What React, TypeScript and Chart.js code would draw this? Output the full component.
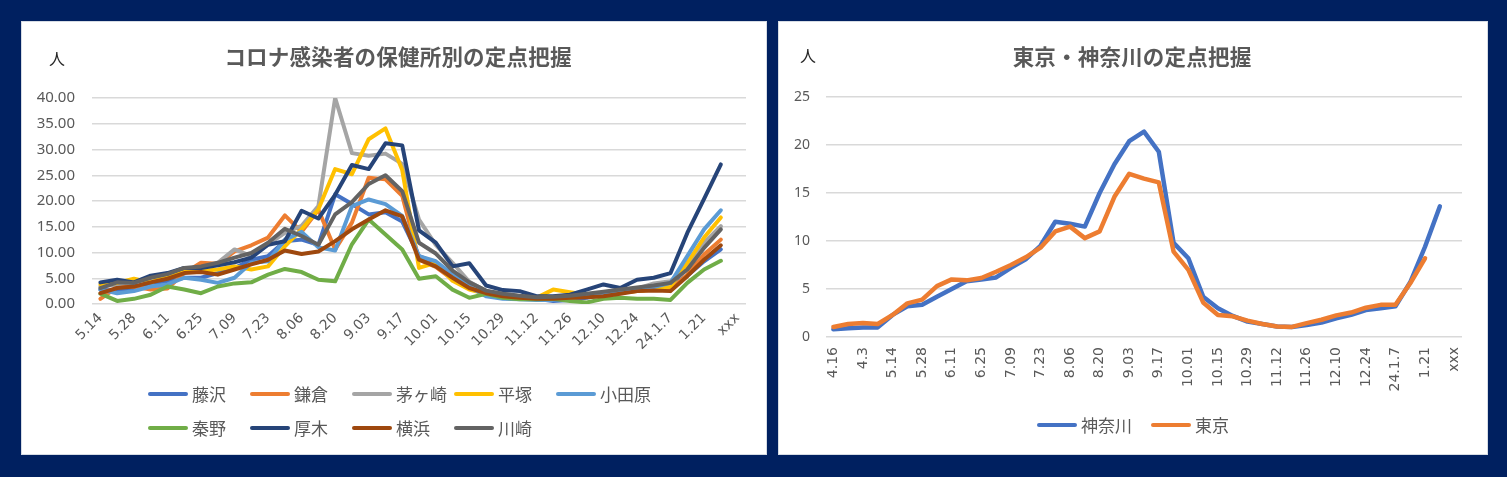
import React, { useEffect, useRef } from "react";
import { Chart, registerables } from "chart.js";

Chart.register(...registerables);

const NAVY = "#002060";
const TEXT = "#595959";
const GRID = "#D9D9D9";
const JP = '"Noto Sans CJK JP", "Noto Sans", sans-serif';

// ---------------- left chart data ----------------
const leftCategories = [
  "5.14", "5.21", "5.28", "6.04", "6.11", "6.18", "6.25", "7.02", "7.09", "7.16",
  "7.23", "7.30", "8.06", "8.13", "8.20", "8.27", "9.03", "9.10", "9.17", "9.24",
  "10.01", "10.08", "10.15", "10.22", "10.29", "11.05", "11.12", "11.19", "11.26", "12.03",
  "12.10", "12.17", "12.24", "12.31", "24.1.7", "1.14", "1.21", "1.28", "xxx",
];

const fujisawa = [2.8, 2.5, 2.8, 4.1, 4.4, 5.1, 5.1, 6.0, 7.0, 8.6, 9.3, 12.2, 12.5, 11.5, 21.3, 19.4, 17.4, 17.8, 16.0, 9.3, 8.0, 5.2, 3.0, 2.0, 1.5, 1.2, 1.0, 0.6, 0.8, 1.2, 1.8, 2.2, 2.6, 3.0, 3.5, 5.5, 8.3, 10.6];
const kamakura = [1.0, 3.3, 3.4, 2.8, 3.0, 6.0, 8.0, 7.8, 10.2, 11.4, 12.9, 17.2, 14.0, 18.3, 10.6, 15.8, 24.5, 24.2, 21.0, 8.6, 7.2, 4.8, 3.0, 2.2, 1.6, 1.2, 1.0, 1.0, 1.2, 1.5, 1.8, 2.2, 2.5, 2.8, 2.8, 5.7, 9.6, 12.5];
const chigasaki = [3.4, 3.8, 4.4, 5.1, 5.7, 6.7, 7.0, 8.0, 10.6, 9.3, 11.6, 13.8, 15.2, 19.0, 40.0, 29.3, 28.8, 29.2, 27.2, 16.4, 11.5, 8.0, 4.3, 2.5, 2.0, 1.5, 1.2, 1.2, 1.4, 1.9, 2.1, 2.6, 3.0, 4.0, 4.4, 7.3, 11.9, 15.1];
const hiratsuka = [3.8, 4.1, 4.9, 4.2, 5.4, 6.4, 6.4, 6.7, 7.3, 6.7, 7.3, 11.2, 14.5, 18.4, 26.2, 25.2, 32.0, 34.1, 26.0, 7.0, 8.0, 4.5, 2.8, 2.0, 1.5, 1.2, 1.2, 2.8, 2.3, 1.8, 2.0, 2.3, 2.5, 2.8, 3.4, 8.0, 12.9, 16.8];
const odawara = [2.8, 2.1, 2.5, 3.4, 3.8, 5.1, 4.7, 4.1, 5.1, 8.0, 8.3, 12.5, 14.0, 11.0, 10.4, 19.0, 20.3, 19.4, 17.1, 9.3, 8.3, 5.7, 3.4, 1.5, 1.0, 0.9, 0.8, 0.8, 1.2, 1.6, 2.0, 2.5, 3.0, 3.3, 4.1, 9.3, 14.5, 18.2];
const hadano = [2.0, 0.6, 1.0, 1.8, 3.4, 2.8, 2.1, 3.4, 4.0, 4.2, 5.7, 6.8, 6.2, 4.7, 4.4, 11.6, 16.4, 13.5, 10.6, 4.9, 5.4, 2.8, 1.2, 2.0, 1.2, 0.9, 0.9, 1.0, 0.6, 0.3, 1.0, 1.2, 1.0, 1.0, 0.8, 4.1, 6.7, 8.4];
const atsugi = [4.2, 4.7, 4.2, 5.5, 6.0, 7.0, 7.0, 7.5, 8.1, 9.0, 11.5, 12.2, 18.1, 16.6, 21.2, 27.0, 26.2, 31.2, 30.8, 14.3, 11.9, 7.3, 7.9, 3.6, 2.7, 2.5, 1.5, 1.5, 1.8, 2.8, 3.8, 3.1, 4.7, 5.1, 6.0, 13.8, 20.4, 27.1];
const yokohama = [2.1, 3.1, 3.4, 4.2, 4.9, 6.0, 6.2, 5.7, 6.7, 7.7, 8.6, 10.4, 9.7, 10.2, 12.2, 14.5, 16.4, 18.2, 17.0, 8.6, 7.3, 5.1, 3.1, 2.1, 1.5, 1.2, 1.0, 1.0, 1.2, 1.3, 1.5, 2.0, 2.5, 2.6, 2.5, 5.4, 8.6, 11.4];
const kawasaki = [3.1, 4.2, 4.1, 5.1, 5.8, 7.0, 7.3, 8.0, 9.0, 9.9, 11.9, 14.6, 13.2, 11.5, 17.4, 19.8, 23.3, 25.0, 21.9, 11.9, 9.8, 6.5, 4.2, 2.6, 2.0, 1.6, 1.3, 1.4, 1.6, 2.0, 2.4, 2.8, 3.2, 3.6, 4.1, 6.7, 10.9, 14.5];

const leftNames = ["藤沢", "鎌倉", "茅ヶ崎", "平塚", "小田原", "秦野", "厚木", "横浜", "川崎"];
const leftColors = ["#4472C4", "#ED7D31", "#A5A5A5", "#FFC000", "#5B9BD5", "#70AD47", "#264478", "#9E480E", "#636363"];
const leftValues = [fujisawa, kamakura, chigasaki, hiratsuka, odawara, hadano, atsugi, yokohama, kawasaki];
const leftTitle = "コロナ感染者の保健所別の定点把握";
const leftYMax = 40;
const leftYStep = 5;

// ---------------- right chart data ----------------
const rightCategories = ["4.16", "4.23", "4.3", "5.07", ...leftCategories];

const kanagawa = [0.8, 0.9, 1.0, 1.0, 2.3, 3.2, 3.35, 4.2, 5.0, 5.8, 6.0, 6.2, 7.2, 8.1, 9.5, 12.0, 11.8, 11.5, 15.0, 18.0, 20.4, 21.4, 19.3, 9.8, 8.2, 4.2, 3.0, 2.2, 1.6, 1.35, 1.1, 1.05, 1.25, 1.5, 1.95, 2.3, 2.8, 3.0, 3.2, 5.7, 9.4, 13.6];
const tokyo = [1.05, 1.35, 1.45, 1.35, 2.3, 3.5, 3.9, 5.3, 6.0, 5.9, 6.15, 6.8, 7.5, 8.3, 9.3, 11.0, 11.5, 10.3, 11.0, 14.6, 17.0, 16.5, 16.1, 8.9, 7.0, 3.6, 2.3, 2.15, 1.7, 1.35, 1.1, 1.05, 1.45, 1.8, 2.25, 2.55, 3.05, 3.35, 3.35, 5.6, 8.2];

const rightNames = ["神奈川", "東京"];
const rightColors = ["#4472C4", "#ED7D31"];
const rightValues = [kanagawa, tokyo];
const rightTitle = "東京・神奈川の定点把握";
const rightYMax = 25;
const rightYStep = 5;

const unitLabel = "人";

// ---------------- chart builders ----------------
function everyOther(this: any, value: any, index: number) {
  return index % 2 === 0 ? this.getLabelForValue(value) : "";
}

function buildLeftConfig(): any {
  return {
    type: "line",
    data: {
      labels: leftCategories,
      datasets: leftValues.map((vals, i) => ({
        label: leftNames[i],
        data: vals,
        borderColor: leftColors[i],
        backgroundColor: leftColors[i],
        borderWidth: 4,
        pointRadius: 0,
        tension: 0,
        borderJoinStyle: "round",
        borderCapStyle: "round",
        order: leftValues.length - i,
      })),
    },
    options: {
      responsive: false,
      animation: false,
      layout: { padding: { left: 11, right: 21, top: 77, bottom: 0 } },
      plugins: { legend: { display: false }, title: { display: false }, tooltip: { enabled: false } },
      scales: {
        x: {
          offset: true,
          grid: { display: false, drawTicks: false },
          border: { display: false },
          ticks: {
            autoSkip: false,
            minRotation: 45,
            maxRotation: 45,
            padding: 6,
            color: TEXT,
            font: { family: '"DejaVu Sans", sans-serif', size: 14 },
            callback: everyOther,
          },
          afterFit: (axis: any) => { axis.height = 151; },
        },
        y: {
          min: 0,
          max: leftYMax,
          ticks: {
            stepSize: leftYStep,
            padding: 17,
            color: TEXT,
            font: { family: '"Noto Sans", sans-serif', size: 15 },
            callback: (v: any) => Number(v).toFixed(2),
          },
          grid: { color: GRID, lineWidth: 1.5, drawTicks: false },
          border: { display: false },
          afterFit: (axis: any) => { axis.width = 60; },
        },
      },
    },
  };
}

function buildRightConfig(): any {
  return {
    type: "line",
    data: {
      labels: rightCategories,
      datasets: rightValues.map((vals, i) => ({
        label: rightNames[i],
        data: vals,
        borderColor: rightColors[i],
        backgroundColor: rightColors[i],
        borderWidth: 4.5,
        pointRadius: 0,
        tension: 0,
        borderJoinStyle: "round",
        borderCapStyle: "round",
        order: rightValues.length - i,
      })),
    },
    options: {
      responsive: false,
      animation: false,
      layout: { padding: { left: 8, right: 26, top: 76, bottom: 0 } },
      plugins: { legend: { display: false }, title: { display: false }, tooltip: { enabled: false } },
      scales: {
        x: {
          offset: true,
          grid: { display: false, drawTicks: false },
          border: { display: false },
          ticks: {
            autoSkip: false,
            minRotation: 90,
            maxRotation: 90,
            padding: 10,
            color: TEXT,
            font: { family: '"DejaVu Sans", sans-serif', size: 14 },
            callback: everyOther,
          },
          afterFit: (axis: any) => { axis.height = 118; },
        },
        y: {
          min: 0,
          max: rightYMax,
          ticks: {
            stepSize: rightYStep,
            padding: 16,
            color: TEXT,
            font: { family: '"Noto Sans", sans-serif', size: 14 },
          },
          grid: { color: GRID, lineWidth: 1.5, drawTicks: false },
          border: { display: false },
          afterFit: (axis: any) => { axis.width = 40; },
        },
      },
    },
  };
}

function ChartCanvas({ build, width, height }: { build: () => any; width: number; height: number }) {
  const ref = useRef<HTMLCanvasElement | null>(null);
  useEffect(() => {
    const chart = new Chart(ref.current as HTMLCanvasElement, build());
    return () => chart.destroy();
  }, []);
  return (
    <canvas
      ref={ref}
      width={width}
      height={height}
      style={{ position: "absolute", left: 0, top: 0, width, height }}
    />
  );
}

function LegendItem({ name, color }: { name: string; color: string }) {
  return (
    <div style={{ display: "flex", alignItems: "center", height: 24, whiteSpace: "nowrap" }}>
      <span style={{ display: "inline-block", width: 40, height: 4, borderRadius: 2, background: color, marginRight: 4 }} />
      <span style={{ fontFamily: JP, fontSize: 17, color: TEXT, lineHeight: "24px" }}>{name}</span>
    </div>
  );
}

const panelStyle = (left: number, width: number): React.CSSProperties => ({
  position: "absolute",
  left,
  top: 21,
  width,
  height: 434,
  background: "#FFFFFF",
  boxShadow: "inset 0 0 0 1px #D6DCE4",
});

const titleStyle = (cx: number): React.CSSProperties => ({
  position: "absolute",
  left: cx,
  top: 22,
  transform: "translateX(-50%)",
  fontFamily: JP,
  fontSize: 21.5,
  letterSpacing: 0.2,
  fontWeight: 700,
  color: TEXT,
  lineHeight: "26px",
  whiteSpace: "nowrap",
});

const unitStyle = (cx: number, cy: number): React.CSSProperties => ({
  position: "absolute",
  left: cx,
  top: cy - 12,
  transform: "translateX(-50%)",
  fontFamily: JP,
  fontSize: 16,
  color: "#262626",
  lineHeight: "24px",
});

export default function App() {
  return (
    <div
      style={{
        position: "fixed",
        left: 0,
        top: 0,
        width: 1507,
        height: 477,
        background: NAVY,
        overflow: "hidden",
      }}
    >
      <div style={panelStyle(21, 746)}>
        <ChartCanvas build={buildLeftConfig} width={746} height={434} />
        <div style={titleStyle(377)}>{leftTitle}</div>
        <div style={unitStyle(36, 37)}>{unitLabel}</div>
        <div
          style={{
            position: "absolute",
            left: 127,
            top: 361,
            display: "grid",
            gridTemplateColumns: "repeat(5, 102px)",
            rowGap: 9.5,
          }}
        >
          {leftNames.map((n, i) => (
            <LegendItem key={n} name={n} color={leftColors[i]} />
          ))}
        </div>
      </div>
      <div style={panelStyle(778, 710)}>
        <ChartCanvas build={buildRightConfig} width={710} height={434} />
        <div style={titleStyle(354)}>{rightTitle}</div>
        <div style={unitStyle(30, 34)}>{unitLabel}</div>
        <div
          style={{
            position: "absolute",
            left: 259,
            top: 392,
            display: "flex",
            gap: 19,
          }}
        >
          {rightNames.map((n, i) => (
            <LegendItem key={n} name={n} color={rightColors[i]} />
          ))}
        </div>
      </div>
    </div>
  );
}
